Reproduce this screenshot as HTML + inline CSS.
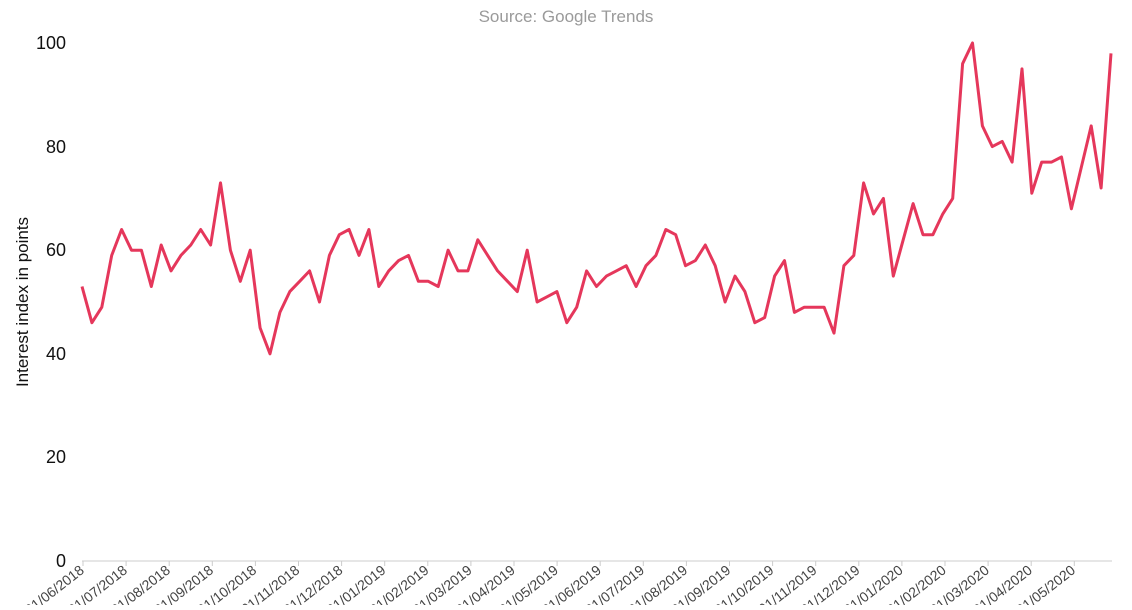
<!DOCTYPE html>
<html><head><meta charset="utf-8"><style>
body{margin:0;background:#fff;width:1132px;height:605px;overflow:hidden;font-family:"Liberation Sans",sans-serif}
</style></head><body>
<svg width="1132" height="605" xmlns="http://www.w3.org/2000/svg" font-family="Liberation Sans, sans-serif">
<text x="566" y="-3" text-anchor="middle" font-size="20" font-weight="bold" fill="#111">Worldwide search interest over time</text>
<text x="566" y="22" text-anchor="middle" font-size="17" fill="#9a9a9a">Source: Google Trends</text>
<g font-size="18" fill="#111" text-anchor="end">
<text x="66" y="49">100</text><text x="66" y="153">80</text><text x="66" y="256">60</text>
<text x="66" y="360">40</text><text x="66" y="463">20</text><text x="66" y="567">0</text>
</g>
<text transform="translate(28,302) rotate(-90)" text-anchor="middle" font-size="17" fill="#111">Interest index in points</text>
<line x1="82" y1="561" x2="1112" y2="561" stroke="#ccc" stroke-width="1"/>
<g id="ticks"></g>
<polyline id="ln" fill="none" stroke="#e5375b" stroke-width="3" stroke-linejoin="round"/>
</svg>
<script>
var d=[53,46,49,59,64,60,60,53,61,56,59,61,64,61,73,60,54,60,45,40,48,52,54,56,50,59,63,64,59,64,53,56,58,59,54,54,53,60,56,56,62,59,56,54,52,60,50,51,52,46,49,56,53,55,56,57,53,57,59,64,63,57,58,61,57,50,55,52,46,47,55,58,48,49,49,49,44,57,59,73,67,70,55,62,69,63,63,67,70,96,100,84,80,81,77,95,71,77,77,78,68,76,84,72,98];
var n=d.length,p=[];
for(var i=0;i<n;i++){p.push((82+i*1029/(n-1)).toFixed(1)+","+(561-d[i]*5.18).toFixed(1));}
document.getElementById("ln").setAttribute("points",p.join(" "));
var g=document.getElementById("ticks"),s="";
var m=["06/2018","07/2018","08/2018","09/2018","10/2018","11/2018","12/2018","01/2019","02/2019","03/2019","04/2019","05/2019","06/2019","07/2019","08/2019","09/2019","10/2019","11/2019","12/2019","01/2020","02/2020","03/2020","04/2020","05/2020"];
for(var k=0;k<m.length;k++){var x=83+k*43.1;
s+='<line x1="'+x+'" y1="561" x2="'+x+'" y2="566" stroke="#ccc"/>';
s+='<text transform="translate('+(x+2)+',572) rotate(-38)" text-anchor="end" font-size="14" fill="#444">01/'+m[k]+'</text>';}
g.innerHTML=s;
</script>
</body></html>
